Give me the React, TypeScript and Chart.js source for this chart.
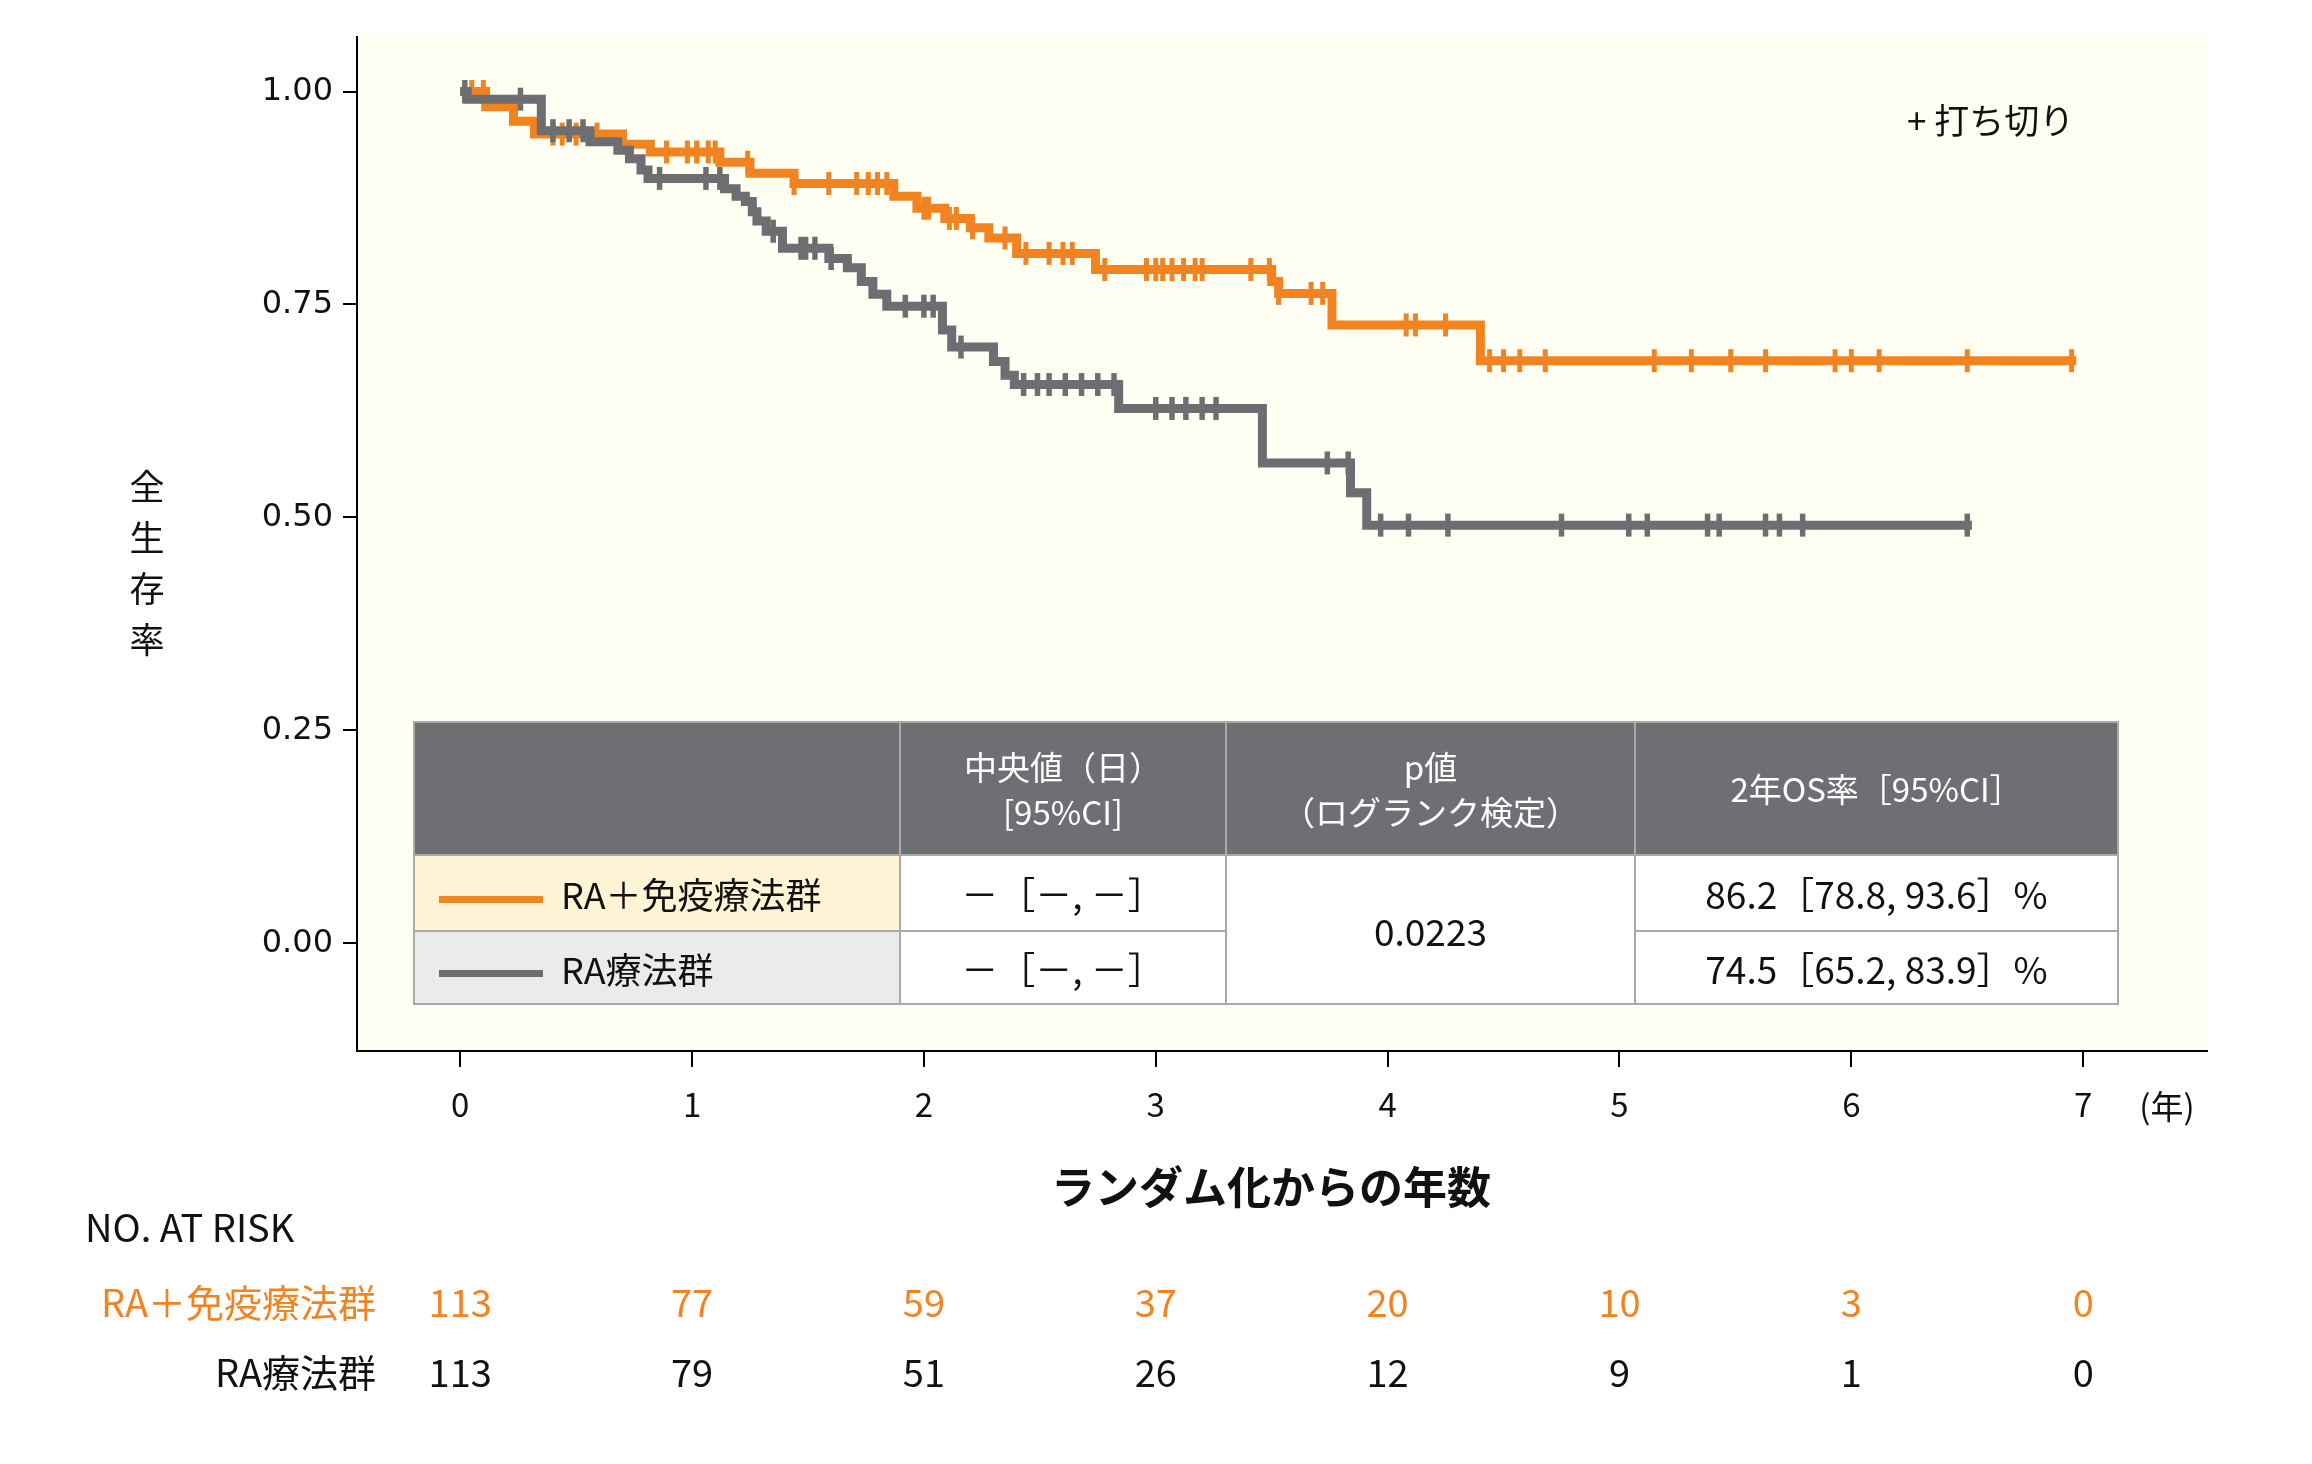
import { useEffect, useRef } from 'react';
import Chart from 'chart.js/auto';

const ORANGE = '#F18420';
const GRAY = '#6D6E72';
const JP = '"Noto Sans CJK JP", "Noto Sans", sans-serif';

const xTickValues = [0, 1, 2, 3, 4, 5, 6, 7];
const yTickValues = [0, 0.25, 0.5, 0.75, 1.0];

// RA＋免疫療法群: step times (years) and survival after each step
const comboTimes = [0, 0.11, 0.23, 0.32, 0.70, 0.82, 1.12, 1.25, 1.44, 1.87, 1.97, 2.09, 2.20, 2.28, 2.40, 2.74, 3.50, 3.53, 3.76, 4.40, 6.97];
const comboSurv = [1.0, 0.982, 0.965, 0.950, 0.938, 0.929, 0.917, 0.904, 0.892, 0.877, 0.863, 0.851, 0.840, 0.828, 0.810, 0.791, 0.777, 0.763, 0.726, 0.684, 0.684];
const comboCensor = [0.05, 0.10, 0.40, 0.44, 0.50, 0.59, 0.89, 0.98, 1.02, 1.07, 1.10, 1.24, 1.44, 1.59, 1.71, 1.76, 1.80, 1.84,
  2.0, 2.02, 2.11, 2.14, 2.21, 2.35, 2.44, 2.54, 2.60, 2.64, 2.78, 2.96, 3.0, 3.03, 3.07, 3.12, 3.17, 3.20, 3.41, 3.49,
  3.53, 3.67, 3.72, 4.08, 4.12, 4.25, 4.44, 4.50, 4.57, 4.68, 5.15, 5.31, 5.48, 5.63, 5.93, 6.0, 6.12, 6.50, 6.95];

// RA療法群
const raTimes = [0, 0.03, 0.35, 0.56, 0.68, 0.73, 0.78, 0.81, 1.14, 1.19, 1.23, 1.26, 1.28, 1.32, 1.39, 1.59, 1.67, 1.73, 1.78, 1.84,
  2.08, 2.12, 2.30, 2.35, 2.39, 2.84, 3.46, 3.84, 3.91, 6.52];
const raSurv = [1.0, 0.991, 0.954, 0.941, 0.931, 0.921, 0.908, 0.898, 0.886, 0.877, 0.871, 0.859, 0.848, 0.836, 0.816, 0.804, 0.793, 0.777, 0.762, 0.748,
  0.720, 0.700, 0.683, 0.667, 0.656, 0.628, 0.564, 0.529, 0.491, 0.491];
const raCensor = [0.02, 0.26, 0.40, 0.47, 0.53, 0.86, 1.06, 1.12, 1.35, 1.47, 1.49, 1.53, 1.60, 1.92, 2.0, 2.04, 2.16,
  2.43, 2.49, 2.54, 2.61, 2.68, 2.75, 2.82, 3.0, 3.07, 3.13, 3.20, 3.26, 3.74, 3.83, 3.97, 4.09, 4.26, 4.75, 5.04, 5.12,
  5.38, 5.43, 5.63, 5.69, 5.79, 6.50];

const riskCombo = [113, 77, 59, 37, 20, 10, 3, 0];
const riskRa = [113, 79, 51, 26, 12, 9, 1, 0];

const survAt = (times: number[], surv: number[], t: number) => {
  let v = surv[0];
  for (let i = 0; i < times.length; i++) if (times[i] <= t) v = surv[i];
  return v;
};

const curve = (times: number[], surv: number[]) => times.map((t, i) => ({ x: t, y: surv[i] }));
const censor = (c: number[], times: number[], surv: number[]) => c.map(t => ({ x: t, y: survAt(times, surv, t) }));

const decorPlugin = {
  id: 'decor',
  beforeDraw(chart: any) {
    const { ctx, chartArea: a } = chart;
    ctx.save();
    ctx.fillStyle = '#FFFEF2';
    ctx.fillRect(a.left, a.top, a.right - a.left, a.bottom - a.top);
    ctx.restore();
  },
  afterDraw(chart: any) {
    const { ctx, chartArea: a } = chart;
    const xs = chart.scales.x;
    ctx.save();
    ctx.fillStyle = '#111';
    ctx.textBaseline = 'middle';

    // y title, stacked upright
    ctx.font = `35px ${JP}`;
    ctx.textAlign = 'center';
    ['全', '生', '存', '率'].forEach((ch, i) => ctx.fillText(ch, 147, 487 + i * 51));

    // censor note
    ctx.font = `35px ${JP}`;
    ctx.textAlign = 'left';
    ctx.fillText('+ 打ち切り', 1907, 121);

    // unit and x title
    ctx.font = `33px ${JP}`;
    ctx.textAlign = 'center';
    ctx.fillText('(年)', 2167, 1106);
    ctx.font = `bold 44px ${JP}`;
    ctx.fillText('ランダム化からの年数', (a.left + a.right) / 2 - 11, 1187);

    // number at risk
    ctx.font = `38px ${JP}`;
    ctx.textAlign = 'left';
    ctx.fillText('NO. AT RISK', 85, 1228);
    ctx.textAlign = 'right';
    ctx.fillStyle = ORANGE;
    ctx.fillText('RA＋免疫療法群', 376, 1303);
    ctx.fillStyle = '#111';
    ctx.fillText('RA療法群', 376, 1373);
    ctx.textAlign = 'center';
    xTickValues.forEach((v, i) => {
      const px = xs.getPixelForValue(v);
      ctx.fillStyle = ORANGE;
      ctx.fillText(String(riskCombo[i]), px, 1303);
      ctx.fillStyle = '#111';
      ctx.fillText(String(riskRa[i]), px, 1373);
    });
    ctx.restore();
  },
};

const cell: React.CSSProperties = {
  border: '2px solid #A9A9A9',
  textAlign: 'center',
  verticalAlign: 'middle',
  padding: 0,
};
const head: React.CSSProperties = { ...cell, background: '#6E6F73', color: '#fff', fontSize: 33, lineHeight: '45px' };
const body: React.CSSProperties = { ...cell, background: '#fff', color: '#111', fontSize: 37 };
const label: React.CSSProperties = { ...body, fontSize: 36, textAlign: 'left', paddingLeft: 24 };

const Swatch = ({ color }: { color: string }) => (
  <span style={{ display: 'inline-block', width: 104, height: 7, background: color, verticalAlign: 'middle', marginRight: 18 }} />
);

const App = () => {
  const canvasRef = useRef<HTMLCanvasElement>(null);
  const chartRef = useRef<Chart | null>(null);

  useEffect(() => {
    if (!canvasRef.current) return;
    if (chartRef.current) chartRef.current.destroy();

    const tickLine = (color: string, width: number) => ({
      showLine: false,
      pointStyle: 'line' as const,
      rotation: 90,
      pointRadius: 11.5,
      pointHoverRadius: 11.5,
      pointBorderWidth: width,
      borderColor: color,
      backgroundColor: color,
    });

    chartRef.current = new Chart(canvasRef.current, {
      type: 'line',
      data: {
        datasets: [
          {
            label: 'RA療法群',
            data: curve(raTimes, raSurv),
            borderColor: GRAY,
            borderWidth: 9,
            stepped: 'before',
            pointRadius: 0,
          },
          { label: 'RA療法群 censor', data: censor(raCensor, raTimes, raSurv), ...tickLine(GRAY, 5.5) },
          {
            label: 'RA＋免疫療法群',
            data: curve(comboTimes, comboSurv),
            borderColor: ORANGE,
            borderWidth: 9,
            stepped: 'before',
            pointRadius: 0,
          },
          { label: 'RA＋免疫療法群 censor', data: censor(comboCensor, comboTimes, comboSurv), ...tickLine(ORANGE, 5) },
        ],
      },
      options: {
        responsive: true,
        maintainAspectRatio: false,
        animation: false,
        layout: { padding: { top: 37, right: 105, bottom: 0, left: 0 } },
        plugins: { legend: { display: false }, tooltip: { enabled: false } },
        scales: {
          x: {
            type: 'linear',
            min: -0.445,
            max: 7.534,
            afterBuildTicks: (s: any) => { s.ticks = xTickValues.map(v => ({ value: v })); },
            afterFit: (s: any) => { s.height = 413; },
            grid: { drawOnChartArea: false, drawTicks: true, tickLength: 16, color: '#000', lineWidth: 2 },
            border: { display: true, color: '#000', width: 2 },
            ticks: { color: '#111', font: { family: JP, size: 33 }, padding: 18, maxRotation: 0 },
          },
          y: {
            type: 'linear',
            min: -0.1263,
            max: 1.064,
            afterBuildTicks: (s: any) => { s.ticks = yTickValues.map(v => ({ value: v })); },
            afterFit: (s: any) => { s.width = 357; },
            grid: { drawOnChartArea: false, drawTicks: true, tickLength: 14, color: '#000', lineWidth: 2 },
            border: { display: true, color: '#000', width: 2 },
            ticks: {
              color: '#111',
              font: { family: '"DejaVu Sans", sans-serif', size: 32 },
              padding: 10,
              callback: (v: any) => Number(v).toFixed(2),
            },
          },
        },
      },
      plugins: [decorPlugin],
    });

    return () => {
      if (chartRef.current) {
        chartRef.current.destroy();
        chartRef.current = null;
      }
    };
  }, []);

  return (
    <div style={{ position: 'absolute', left: 0, top: 0, width: 2312, height: 1464, background: '#fff', fontFamily: JP }}>
      <canvas ref={canvasRef} />
      <table
        style={{
          position: 'absolute',
          left: 413,
          top: 721,
          width: 1704,
          height: 282,
          borderCollapse: 'collapse',
          tableLayout: 'fixed',
        }}
      >
        <colgroup>
          <col style={{ width: 486 }} />
          <col style={{ width: 326 }} />
          <col style={{ width: 409 }} />
          <col style={{ width: 483 }} />
        </colgroup>
        <tbody>
          <tr style={{ height: 133 }}>
            <td style={head} />
            <td style={head}>中央値（日）<br />[95%CI]</td>
            <td style={head}>p値<br />（ログランク検定）</td>
            <td style={head}>2年OS率［95%CI］</td>
          </tr>
          <tr style={{ height: 76 }}>
            <td style={{ ...label, background: '#FFF5D6' }}>
              <Swatch color={ORANGE} />RA＋免疫療法群
            </td>
            <td style={body}>－［－, －］</td>
            <td style={body} rowSpan={2}>0.0223</td>
            <td style={body}>86.2［78.8, 93.6］%</td>
          </tr>
          <tr style={{ height: 73 }}>
            <td style={{ ...label, background: '#EBEBEB' }}>
              <Swatch color={GRAY} />RA療法群
            </td>
            <td style={body}>－［－, －］</td>
            <td style={body}>74.5［65.2, 83.9］%</td>
          </tr>
        </tbody>
      </table>
    </div>
  );
};

export default App;
